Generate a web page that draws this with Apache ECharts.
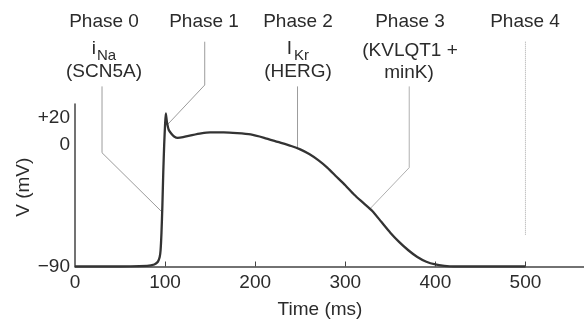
<!DOCTYPE html>
<html>
<head>
<meta charset="utf-8">
<script src="https://cdn.jsdelivr.net/npm/echarts@6/dist/echarts.min.js"></script>
<style>
html,body{margin:0;padding:0;background:#fff;}
#main{width:584px;height:332px;}
</style>
</head>
<body>
<div id="main"></div>
<script>
// ---- data ----
const timeMs = [0, 40, 80, 88, 92, 94, 95, 96, 97, 98, 99, 100, 100.8, 102, 104, 107, 110, 114, 120, 130, 140, 150, 165, 180, 195, 210, 225, 240, 250, 260, 270, 280, 290, 300, 310, 320, 330, 340, 350, 360, 370, 380, 390, 400, 410, 420, 450, 500];
const voltageMv = [-90, -90, -89.5, -88.5, -86.5, -83, -78, -65, -45, -20, 0, 15, 23, 17, 11, 8, 6, 5, 5.5, 7, 8.3, 9, 9, 8.5, 7.5, 5, 2, -1, -3.5, -7, -11.5, -17, -23.5, -30, -37, -43, -49, -57, -65, -72, -78, -83, -86.5, -88.5, -89.5, -90, -90, -90];
const xTickValues = [0, 100, 200, 300, 400, 500];
const yTickValues = [-90, 0, 20];
const yTickLabels = ['\u221290', '0', '+20'];
const xTitle = 'Time (ms)';
const yTitle = 'V (mV)';

// leader lines (data units): phase annotations
const leaderPhase0 = [[30, 43], [30, -6], [97, -50]];
const leaderPhase1 = [[144, 76], [144, 44], [103, 15]];
const leaderPhase2 = [[247, 43], [247, -2.5]];
const leaderPhase3 = [[371, 43], [371, -17], [328, -47]];
const leaderPhase4 = [[500, 76], [500, -67]];

const FONT = '"Liberation Sans", Arial, Helvetica, sans-serif';
const TXT = '#2b2b2b';

const chart = echarts.init(document.getElementById('main'), null, {renderer: 'canvas'});

function leader(data, type, color) {
  return {
    type: 'line', data: data, symbol: 'none', silent: true, clip: false, z: 1,
    lineStyle: {color: color || '#9c9c9c', width: 1, type: type || 'solid'},
    animation: false
  };
}

function txt(x, y, s, size, align) {
  return {type: 'text', x: x, y: y, silent: true,
    style: {text: s, font: (size || 19) + 'px ' + FONT, fill: TXT, align: align || 'center', verticalAlign: 'middle'}};
}

chart.setOption({
  animation: false,
  backgroundColor: '#fff',
  grid: {left: 75, right: 0, top: 104, bottom: 65.5, containLabel: false, outerBoundsMode: 'none'},
  xAxis: {
    type: 'value', min: 0, max: 565,
    name: xTitle, nameLocation: 'middle', nameGap: 34, nameMoveOverlap: false,
    nameTextStyle: {fontSize: 19, fontFamily: FONT, color: TXT, padding: [0, 19, 0, 0]},
    axisLine: {show: true, onZero: false, lineStyle: {color: '#444', width: 1.5}},
    axisTick: {show: true, inside: true, length: 5, customValues: xTickValues.slice(1), lineStyle: {color: '#444', width: 1}},
    axisLabel: {customValues: xTickValues, fontSize: 19, fontFamily: FONT, color: TXT, margin: 7},
    splitLine: {show: false}
  },
  yAxis: {
    type: 'value', min: -90, max: 30,
    name: yTitle, nameLocation: 'middle', nameGap: 42, nameRotate: 90, nameMoveOverlap: false,
    nameTextStyle: {fontSize: 19, fontFamily: FONT, color: TXT, padding: [0, 4, 0, 0]},
    axisLine: {show: true, onZero: false, lineStyle: {color: '#444', width: 1.5}},
    axisTick: {show: false},
    axisLabel: {
      customValues: yTickValues, fontSize: 19, fontFamily: FONT, color: TXT, margin: 5,
      formatter: function (v) { const i = yTickValues.indexOf(v); return i >= 0 ? yTickLabels[i] : ''; }
    },
    splitLine: {show: false}
  },
  series: [
    leader(leaderPhase0),
    leader(leaderPhase1),
    leader(leaderPhase2),
    leader(leaderPhase3, 'solid', '#b0b0b0'),
    leader(leaderPhase4, 'dotted', '#a8a8a8'),
    {
      type: 'line', data: timeMs.map((t, i) => [t, voltageMv[i]]),
      symbol: 'none', smooth: 0.2, z: 5,
      lineStyle: {color: '#333', width: 2.3}
    }
  ],
  graphic: [
    txt(104, 22, 'Phase 0'),
    txt(96, 49, 'i', 19, 'right'),
    txt(97, 56, 'Na', 15, 'left'),
    txt(104, 72, '(SCN5A)'),
    txt(204, 22, 'Phase 1'),
    txt(292, 49, 'I', 19, 'right'),
    txt(294, 56, 'Kr', 15, 'left'),
    txt(298, 72, '(HERG)'),
    txt(410, 22, 'Phase 3'),
    txt(410, 51, '(KVLQT1 +'),
    txt(409, 73, 'minK)'),
    txt(298, 22, 'Phase 2'),
    txt(525, 22, 'Phase 4')
  ]
});
</script>
</body>
</html>
